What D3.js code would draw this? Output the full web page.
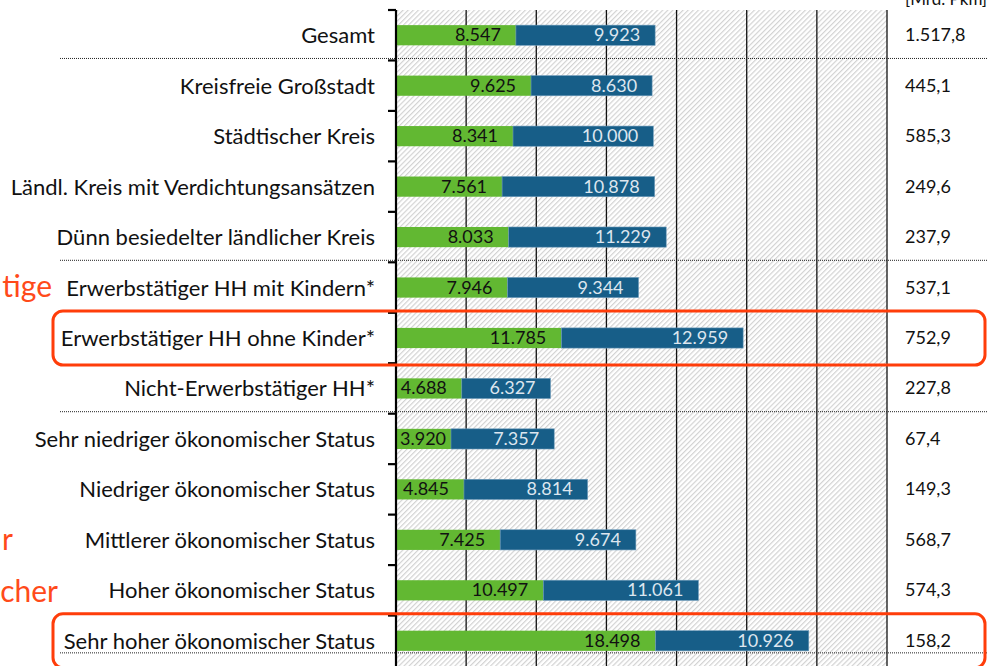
<!DOCTYPE html>
<meta charset="utf-8">
<style>
  body { margin: 0; background: #fff; }
  svg { display: block; font-family: Lato, "Open Sans", sans-serif; }
</style>
<script src="https://cdn.jsdelivr.net/npm/d3@7"></script>
<div id="chart"></div>
<script>
// data
var categories = [
  "Gesamt",
  "Kreisfreie Großstadt",
  "Städtischer Kreis",
  "Ländl. Kreis mit Verdichtungsansätzen",
  "Dünn besiedelter ländlicher Kreis",
  "Erwerbstätiger HH mit Kindern*",
  "Erwerbstätiger HH ohne Kinder*",
  "Nicht-Erwerbstätiger HH*",
  "Sehr niedriger ökonomischer Status",
  "Niedriger ökonomischer Status",
  "Mittlerer ökonomischer Status",
  "Hoher ökonomischer Status",
  "Sehr hoher ökonomischer Status"
];
var greenValues = [8547, 9625, 8341, 7561, 8033, 7946, 11785, 4688, 3920, 4845, 7425, 10497, 18498];
var blueValues = [9923, 8630, 10000, 10878, 11229, 9344, 12959, 6327, 7357, 8814, 9674, 11061, 10926];
var totals = [1517.8, 445.1, 585.3, 249.6, 237.9, 537.1, 752.9, 227.8, 67.4, 149.3, 568.7, 574.3, 158.2];
var gridTicks = [5000, 10000, 15000, 20000, 25000, 30000, 35000];
var separatorsAfter = ["Gesamt", "Dünn besiedelter ländlicher Kreis", "Nicht-Erwerbstätiger HH*"];
var highlighted = ["Erwerbstätiger HH ohne Kinder*", "Sehr hoher ökonomischer Status"];
var unitLabel = "[Mrd. Pkm]";
// orange notes, cut off at the left edge of the picture
var noteTexts = ["tige", "r", "cher"];
var noteRows = [categories[5], categories[10], categories[11]];

var W = 987, H = 666;
var de = d3.formatLocale({ decimal: ",", thousands: ".", grouping: [3], currency: ["", "€"] });
var fInt = de.format(",d"), fTot = de.format(",.1f");

var svg = d3.select("#chart").append("svg")
    .attr("width", W)
    .attr("height", H);

var x = d3.scaleLinear().domain([0, 35000]).range([396, 887]);
var y = d3.scaleBand().domain(categories).range([10, 666]).paddingInner(0.6).paddingOuter(0.3);
var step = y.step(), bw = y.bandwidth(), gap = (step - bw) / 2;

// hatched plot background
var defs = svg.append("defs");
var pat = defs.append("pattern")
    .attr("id", "hatch")
    .attr("patternUnits", "userSpaceOnUse")
    .attr("width", 3.6).attr("height", 3.6)
    .attr("patternTransform", "rotate(45)");
pat.append("rect").attr("width", 3.6).attr("height", 3.6).attr("fill", "#fff");
pat.append("line")
    .attr("x1", 0.6).attr("y1", 0).attr("x2", 0.6).attr("y2", 3.6)
    .attr("stroke", "#d2d2d2").attr("stroke-width", 1.2);

svg.append("rect")
    .attr("x", x(0)).attr("y", 10)
    .attr("width", x(35000) - x(0)).attr("height", H - 10)
    .attr("fill", "url(#hatch)");

// vertical gridlines
svg.append("g").selectAll("line").data(gridTicks).enter().append("line")
    .attr("x1", d => x(d)).attr("x2", d => x(d))
    .attr("y1", 10).attr("y2", H)
    .attr("stroke", "#111").attr("stroke-width", 1.3);

// dotted separators
var sepY = separatorsAfter.map(c => y(c) + bw + gap - 2);
sepY.push(y(categories[categories.length - 1]) + bw + 2);
svg.append("g").selectAll("line").data(sepY).enter().append("line")
    .attr("x1", 60).attr("x2", W)
    .attr("y1", d => d).attr("y2", d => d)
    .attr("stroke", "#222").attr("stroke-width", 1)
    .attr("stroke-dasharray", "1,1");

// stacked bars
var rows = categories.map((c, i) => ({ c: c, g: greenValues[i], b: blueValues[i], t: totals[i] }));

svg.append("g").selectAll("rect").data(rows).enter().append("rect")
    .attr("x", x(0)).attr("y", d => y(d.c))
    .attr("width", d => x(d.g) - x(0)).attr("height", bw)
    .attr("fill", "#62b832");

svg.append("g").selectAll("rect").data(rows).enter().append("rect")
    .attr("x", d => x(d.g)).attr("y", d => y(d.c))
    .attr("width", d => x(d.g + d.b) - x(d.g)).attr("height", bw)
    .attr("fill", "#175e88")
    .attr("stroke", "#6f9cbb").attr("stroke-width", 0.6);

// value labels inside the segments (inside end, kept inside the segment)
function segLabel(sel, x0, x1, txt, color) {
  sel.enter().append("text")
    .attr("y", d => y(d.c) + bw / 2 + 6)
    .attr("font-size", 18)
    .attr("fill", color)
    .attr("text-anchor", "end")
    .text(txt)
    .attr("x", function(d) {
      var w = this.getComputedTextLength();
      return Math.max(x1(d) - 15, x0(d) + 4 + w);
    });
}
segLabel(svg.append("g").selectAll("text").data(rows), d => x(0), d => x(d.g), d => fInt(d.g), "#111");
segLabel(svg.append("g").selectAll("text").data(rows), d => x(d.g), d => x(d.g + d.b), d => fInt(d.b), "#dde6ef");

// category axis
svg.append("line")
    .attr("x1", x(0)).attr("x2", x(0))
    .attr("y1", 10).attr("y2", H)
    .attr("stroke", "#000").attr("stroke-width", 2.2);

var bounds = categories.map(c => y(c) - gap);
svg.append("g").selectAll("line").data(bounds).enter().append("line")
    .attr("x1", x(0) - 8).attr("x2", x(0))
    .attr("y1", d => d).attr("y2", d => d)
    .attr("stroke", "#000").attr("stroke-width", 2.2);

svg.append("g").selectAll("text").data(rows).enter().append("text")
    .attr("x", 375)
    .attr("y", d => y(d.c) + bw / 2 + 8)
    .attr("text-anchor", "end")
    .attr("font-size", 22)
    .attr("fill", "#111")
    .text(d => d.c);

// totals column
svg.append("g").selectAll("text").data(rows).enter().append("text")
    .attr("x", 905)
    .attr("y", d => y(d.c) + bw / 2 + 6)
    .attr("font-size", 18)
    .attr("fill", "#111")
    .text(d => fTot(d.t));

svg.append("text")
    .attr("x", 905).attr("y", 5)
    .attr("font-size", 17).attr("fill", "#111")
    .text(unitLabel);

// orange highlight boxes
svg.append("g").selectAll("rect").data(highlighted).enter().append("rect")
    .attr("x", 53).attr("width", 932)
    .attr("y", d => y(d) + bw / 2 - 27)
    .attr("height", 54)
    .attr("rx", 10)
    .attr("fill", "none")
    .attr("stroke", "#ff3d0a").attr("stroke-width", 3);

// cut-off orange notes at the left edge
var noteEnd = [52, 13, 58], noteDy = [9, 10, 12];
svg.append("g").selectAll("text").data(noteTexts).enter().append("text")
    .attr("x", (d, i) => noteEnd[i])
    .attr("y", (d, i) => y(noteRows[i]) + bw / 2 + noteDy[i])
    .attr("text-anchor", "end")
    .attr("font-size", 30)
    .attr("fill", "#ff4a1a")
    .text(d => d);
</script>
